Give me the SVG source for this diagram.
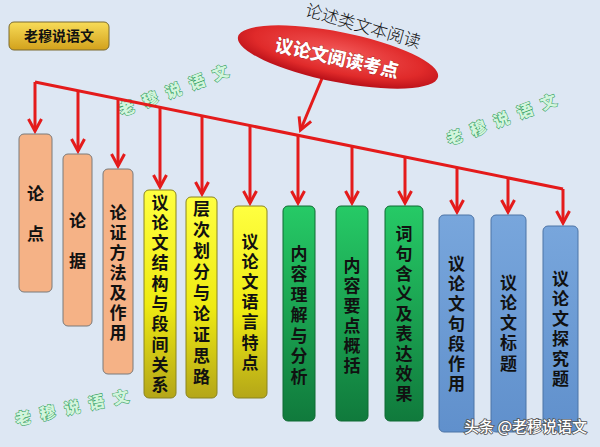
<svg xmlns="http://www.w3.org/2000/svg" width="600" height="447" viewBox="0 0 600 447">
<defs>
<style>
.bt{font-family:"Noto Sans CJK SC","Noto Sans",sans-serif;font-weight:700;font-size:17px;fill:#111;text-anchor:middle}
.wm{font-family:"Noto Sans CJK SC",sans-serif;font-weight:900;font-size:16px;fill:#d2f5dc;stroke:#2f9a5a;stroke-width:1;text-anchor:middle;paint-order:stroke}
.cn{fill:none;stroke:#e41b1b;stroke-width:3}
.orange{fill:#f5b286;stroke:#7a7a7a;stroke-width:1}
.yellow{fill:url(#gy);stroke:#8a8420;stroke-width:1}
.green{fill:url(#gg);stroke:#0f6a33;stroke-width:1}
.blue{fill:url(#gb);stroke:#4d74a6;stroke-width:1}
</style>
<linearGradient id="gy" x1="0" y1="0" x2="0" y2="1"><stop offset="0" stop-color="#ffff40"/><stop offset="0.55" stop-color="#eeea12"/><stop offset="1" stop-color="#b4a618"/></linearGradient>
<linearGradient id="gg" x1="0" y1="0" x2="0" y2="1"><stop offset="0" stop-color="#26ca66"/><stop offset="1" stop-color="#107a3c"/></linearGradient>
<linearGradient id="gb" x1="0" y1="0" x2="0" y2="1"><stop offset="0" stop-color="#78a6dc"/><stop offset="1" stop-color="#6090cc"/></linearGradient>
<linearGradient id="gl" x1="0" y1="0" x2="0" y2="1"><stop offset="0" stop-color="#f8dc58"/><stop offset="1" stop-color="#d2a11c"/></linearGradient>
<radialGradient id="ge" cx="0.5" cy="0.4" r="0.6"><stop offset="0" stop-color="#f25858"/><stop offset="0.7" stop-color="#e02a2a"/><stop offset="1" stop-color="#b80f18"/></radialGradient>
<marker id="ah" markerUnits="userSpaceOnUse" markerWidth="20" markerHeight="20" viewBox="-16 -10 20 20" refX="0" refY="0" orient="auto" overflow="visible">
<path d="M-12,-6.5 L0,0 L-12,6.5" fill="none" stroke="#e41b1b" stroke-width="3"/>
</marker>
</defs>
<rect width="600" height="447" fill="#dde7f3"/>

<g id="label">
<rect x="9" y="22" width="100" height="28" rx="5" fill="url(#gl)" stroke="#7a6a30" stroke-width="1"/>
<text x="59" y="41" font-family="Noto Sans CJK SC,sans-serif" font-weight="700" font-size="14" text-anchor="middle" fill="#111">老穆说语文</text>
</g>

<g id="watermarks">
<text class="wm" transform="translate(173.5 90.5) rotate(-20.6)" x="-50 -25 0 25 50" y="6">老穆说语文</text>
<text class="wm" transform="translate(501.5 119.5) rotate(-20.6)" x="-50 -25 0 25 50" y="6">老穆说语文</text>
<text class="wm" transform="translate(72 407.5) rotate(-12)" x="-50 -25 0 25 50" y="6">老穆说语文</text>
</g>

<g id="connectors">
<path class="cn" d="M35,82 L563,189"/>
<path class="cn" marker-end="url(#ah)" d="M35,82 V131"/>
<path class="cn" marker-end="url(#ah)" d="M78,90.7 V151"/>
<path class="cn" marker-end="url(#ah)" d="M118,98.8 V166"/>
<path class="cn" marker-end="url(#ah)" d="M160,107.3 V187"/>
<path class="cn" marker-end="url(#ah)" d="M202,115.8 V194"/>
<path class="cn" marker-end="url(#ah)" d="M250,125.6 V203"/>
<path class="cn" marker-end="url(#ah)" d="M298,135.3 V203"/>
<path class="cn" marker-end="url(#ah)" d="M352,146.2 V203"/>
<path class="cn" marker-end="url(#ah)" d="M405,157 V203"/>
<path class="cn" marker-end="url(#ah)" d="M457,167.5 V212"/>
<path class="cn" marker-end="url(#ah)" d="M508,177.8 V212"/>
<path class="cn" marker-end="url(#ah)" d="M563,189 V223"/>
<path class="cn" marker-end="url(#ah)" d="M323,76 L300.5,130"/>
</g>

<g id="root">
<ellipse cx="338" cy="57" rx="102" ry="25" transform="rotate(11.3 338 57)" fill="url(#ge)"/>
<text transform="translate(337 58) rotate(12.5)" x="0" y="6.5" text-anchor="middle" font-family="Noto Sans CJK SC,sans-serif" font-weight="900" font-size="18" fill="#fff" stroke="#a01010" stroke-width="0.6" paint-order="stroke">议论文阅读考点</text>
<text x="304.2 320.5 336.8 353.2 369.5 385.8 402.2" y="15.3 20 24.7 29.4 34.1 38.8 43.5" rotate="16" font-family="Noto Sans CJK SC,sans-serif" font-weight="300" font-size="17" fill="#111">论述类文本阅读</text>
</g>

<g id="n1"><rect class="orange" x="19" y="134" width="33" height="158" rx="5"/>
<text class="bt" x="35.5 35.5" y="199.5 239.5">论点</text></g>
<g id="n2"><rect class="orange" x="63" y="154" width="29" height="172" rx="5"/>
<text class="bt" x="77.5 77.5" y="226.5 266.5">论据</text></g>
<g id="n3"><rect class="orange" x="103" y="169" width="30" height="205" rx="5"/>
<text class="bt" x="118 118 118 118 118 118 118" y="218.5 238.5 258.5 278.5 298.5 318.5 338.5">论证方法及作用</text></g>
<g id="n4"><rect class="yellow" x="144" y="190" width="32" height="208" rx="5"/>
<text class="bt" x="160 160 160 160 160 160 160 160 160 160" y="208.5 228.8 249.1 269.4 289.7 310 330.3 350.6 370.9 391.2">议论文结构与段间关系</text></g>
<g id="n5"><rect class="yellow" x="186" y="197" width="31" height="201" rx="5"/>
<text class="bt" x="201.5 201.5 201.5 201.5 201.5 201.5 201.5 201.5 201.5" y="214.5 235.6 256.7 277.8 298.9 320 341.1 362.2 383.3">层次划分与论证思路</text></g>
<g id="n6"><rect class="yellow" x="233" y="206" width="34" height="192" rx="5"/>
<text class="bt" x="250 250 250 250 250 250 250" y="247.5 267.7 287.9 308.1 328.3 348.5 368.7">议论文语言特点</text></g>
<g id="n7"><rect class="green" x="283" y="206" width="32" height="215" rx="5"/>
<text class="bt" x="299 299 299 299 299 299 299" y="259.5 280 300.5 321 341.5 362 382.5">内容理解与分析</text></g>
<g id="n8"><rect class="green" x="336" y="206" width="32" height="215" rx="5"/>
<text class="bt" x="352 352 352 352 352 352" y="271.5 291.5 311.5 331.5 351.5 371.5">内容要点概括</text></g>
<g id="n9"><rect class="green" x="385" y="206" width="38" height="215" rx="5"/>
<text class="bt" x="404 404 404 404 404 404 404 404 404" y="239.5 259.5 279.5 299.5 319.5 339.5 359.5 379.5 399.5">词句含义及表达效果</text></g>
<g id="n10"><rect class="blue" x="439" y="215" width="35" height="217" rx="5"/>
<text class="bt" x="456.5 456.5 456.5 456.5 456.5 456.5 456.5" y="269.5 289.5 309.5 329.5 349.5 369.5 389.5">议论文句段作用</text></g>
<g id="n11"><rect class="blue" x="491" y="215" width="35" height="217" rx="5"/>
<text class="bt" x="508.5 508.5 508.5 508.5 508.5" y="288.5 308.8 329.1 349.4 369.7">议论文标题</text></g>
<g id="n12"><rect class="blue" x="543" y="226" width="35" height="206" rx="5"/>
<text class="bt" x="560.5 560.5 560.5 560.5 560.5 560.5" y="284.5 304.5 324.5 344.5 364.5 384.5">议论文探究题</text></g>

<text x="587" y="432" text-anchor="end" font-family="Noto Sans CJK SC,sans-serif" font-weight="500" font-size="15" fill="#fff" stroke="#555" stroke-width="1.6" paint-order="stroke">头条 @老穆说语文</text>
</svg>
